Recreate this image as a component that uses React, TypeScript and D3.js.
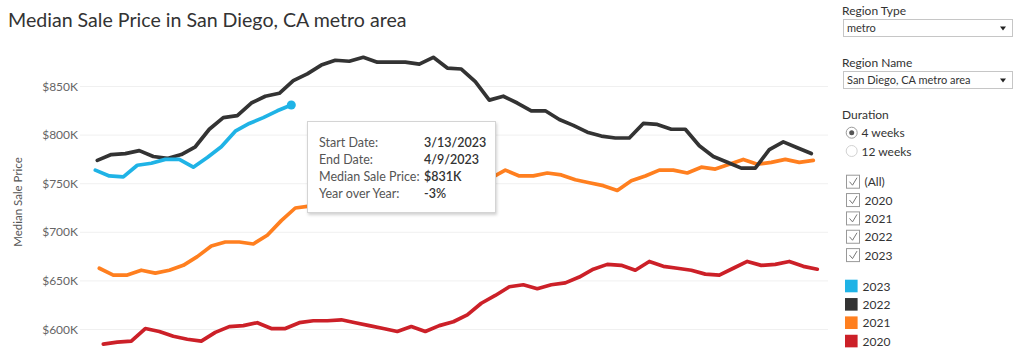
import React from 'react';
import * as d3 from 'd3';

// weekly median sale price, $K (4-week window)
const years = ['2023', '2022', '2021', '2020'];
const firstWeekEnd = {
  '2020': new Date(2020, 0, 5),
  '2021': new Date(2021, 0, 3),
  '2022': new Date(2022, 0, 2),
  '2023': new Date(2023, 0, 1),
};
const price2023 = [764, 758, 757, 769, 771, 775, 775, 767, 777, 788, 804, 812, 818, 825, 831];
const price2022 = [774, 780, 781, 784, 778, 776, 780, 788, 806, 818, 820, 833, 840, 843, 856, 863, 872, 877, 876, 880, 875, 875, 875, 873, 880, 869, 868, 855, 836, 840, 833, 825, 825, 816, 810, 803, 799, 797, 797, 812, 811, 806, 806, 789, 778, 772, 766, 766, 785, 793, 787, 781];
const price2021 = [663, 656, 656, 661, 658, 661, 666, 675, 686, 690, 690, 688, 697, 712, 725, 727, 732, 738, 742, 748, 752, 755, 757, 760, 762, 760, 758, 757, 756, 764, 758, 758, 761, 759, 754, 751, 748, 743, 753, 758, 764, 764, 761, 767, 765, 770, 775, 770, 772, 775, 772, 774];
const price2020 = [585, 587, 588, 601, 598, 593, 590, 588, 597, 603, 604, 607, 601, 601, 607, 609, 609, 610, 607, 604, 601, 598, 603, 598, 604, 608, 615, 627, 635, 644, 646, 642, 646, 648, 654, 662, 667, 666, 661, 670, 665, 663, 661, 657, 656, 663, 670, 666, 667, 670, 665, 662];
const yTicks = [600, 650, 700, 750, 800, 850];
const colors = { '2023': '#1fb3e6', '2022': '#333333', '2021': '#ff7f1f', '2020': '#cc2028' };

const tooltipLabels = ['Start Date:', 'End Date:', 'Median Sale Price:', 'Year over Year:'];
const tooltipValues = ['3/13/2023', '4/9/2023', '$831K', '-3%'];
const filterYears = ['(All)', '2020', '2021', '2022', '2023'];

const FONT = 'Lato, "Open Sans", sans-serif';

const dayOfYear = (d: Date) => d3.timeDay.count(d3.timeYear(d), d) + 1;

const App = () => {
  const x = d3.scaleLinear().domain([1, 366]).range([95.3, 825.3]);
  const y = d3.scaleLinear().domain([600, 850]).range([329.5, 86.5]);

  const byYear: Record<string, number[]> = {
    '2023': price2023, '2022': price2022, '2021': price2021, '2020': price2020,
  };

  const series = years.map(yr => ({
    year: yr,
    points: byYear[yr].map((v, i) => ({
      day: dayOfYear(d3.timeWeek.offset(firstWeekEnd[yr], i)),
      value: v,
    })),
  }));

  const line = d3.line<{ day: number; value: number }>()
    .x(d => x(d.day))
    .y(d => y(d.value));

  const last2023 = series[0].points[series[0].points.length - 1];

  return (
    <svg width={1024} height={364} style={{ position: 'absolute', left: 0, top: 0, fontFamily: FONT }}>
      <defs>
        <filter id="tipShadow" x="-10%" y="-10%" width="130%" height="140%">
          <feDropShadow dx="1" dy="2" stdDeviation="1.5" floodColor="#000" floodOpacity="0.18" />
        </filter>
      </defs>
      <rect width={1024} height={364} fill="#fff" />

      <text x={8} y={27} fontSize={19.6} fill="#333">Median Sale Price in San Diego, CA metro area</text>

      {/* grid + y axis */}
      {yTicks.map(t => (
        <g key={t}>
          <line x1={80} x2={828} y1={y(t)} y2={y(t)} stroke="#f0f0f0" strokeWidth={1} />
          <text x={78} y={y(t) + 4} textAnchor="end" fontSize={12} fill="#666">
            {d3.format('$,')(t)}K
          </text>
        </g>
      ))}
      <text transform="translate(22,202) rotate(-90)" textAnchor="middle" fontSize={11.5} fill="#555">
        Median Sale Price
      </text>

      {/* lines, 2020 at the bottom */}
      {[...series].reverse().map(s => (
        <path key={s.year} d={line(s.points) || ''} fill="none" stroke={colors[s.year]}
          strokeWidth={3.7} strokeLinejoin="round" strokeLinecap="round" />
      ))}
      <circle cx={x(last2023.day)} cy={y(last2023.value)} r={4.5} fill={colors['2023']} />

      {/* tooltip */}
      <g>
        <rect x={307.5} y={121.5} width={188} height={91} fill="#fff" stroke="#d4d4d4" filter="url(#tipShadow)" />
        {tooltipLabels.map((l, i) => (
          <g key={l}>
            <text x={319} y={146.5 + i * 17} fontSize={12.5} fill="#555">{l}</text>
            <text x={424} y={146.5 + i * 17} fontSize={12.5} fill="#333" fontWeight={600}>{tooltipValues[i]}</text>
          </g>
        ))}
      </g>

      {/* right panel */}
      <g fontSize={12} fill="#333">
        <text x={842} y={15}>Region Type</text>
        <rect x={843.5} y={19.5} width={169} height={17} fill="#fff" stroke="#c6c6c6" />
        <text x={847} y={32} fontSize={11}>metro</text>
        <path d="M1000,26.5 L1006,26.5 L1003,30.5 Z" fill="#222" />

        <text x={842} y={66.5}>Region Name</text>
        <rect x={843.5} y={71.5} width={169} height={17} fill="#fff" stroke="#c6c6c6" />
        <text x={847} y={84} fontSize={11}>San Diego, CA metro area</text>
        <path d="M1000,78.5 L1006,78.5 L1003,82.5 Z" fill="#222" />

        <text x={842} y={118.5}>Duration</text>
        <circle cx={851.7} cy={132.7} r={5.5} fill="#fff" stroke="#9a9a9a" />
        <circle cx={851.7} cy={132.7} r={2.5} fill="#555" />
        <text x={861.5} y={137}>4 weeks</text>
        <circle cx={851.7} cy={151} r={5.5} fill="#fff" stroke="#d2d2d2" />
        <text x={861.5} y={155.5}>12 weeks</text>

        {filterYears.map((f, i) => {
          const cy = 181.7 + i * 18.35;
          return (
            <g key={f}>
              <rect x={846.5} y={cy - 6.5} width={13} height={13} fill="#fff" stroke="#999" />
              <path d={`M849.5,${cy} L852.5,${cy + 3.5} L857,${cy - 4}`} fill="none" stroke="#777" strokeWidth={1} />
              <text x={864.5} y={cy + 4.5}>{f}</text>
            </g>
          );
        })}

        {years.map((yr, i) => {
          const cy = 286 + i * 18.35;
          return (
            <g key={yr}>
              <rect x={845} y={cy - 6.3} width={12.6} height={12.6} fill={colors[yr]} />
              <text x={862.5} y={cy + 4.5}>{yr}</text>
            </g>
          );
        })}
      </g>
    </svg>
  );
};

export default App;
